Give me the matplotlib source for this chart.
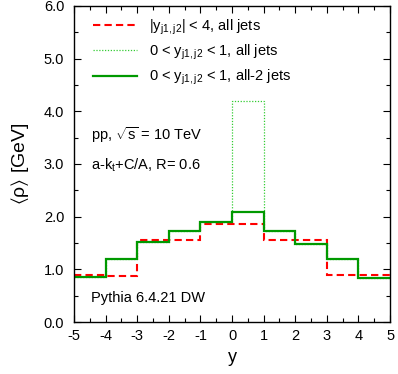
import matplotlib
matplotlib.use("Agg")
import matplotlib.pyplot as plt
from matplotlib.ticker import MultipleLocator

plt.rcParams["font.family"] = ["Liberation Sans", "DejaVu Sans"]
plt.rcParams["mathtext.fontset"] = "custom"
plt.rcParams["mathtext.rm"] = "Liberation Sans"
plt.rcParams["mathtext.it"] = "Liberation Sans"
plt.rcParams["mathtext.default"] = "regular"
plt.rcParams["axes.unicode_minus"] = False

# bin edges in rapidity y
edges = [-5, -4, -3, -2, -1, 0, 1, 2, 3, 4, 5]
# <rho> [GeV] per bin
rho_all_jets = [0.89, 0.88, 1.56, 1.56, 1.86, 1.86, 1.55, 1.55, 0.89, 0.89]
rho_fwd_all = [0.86, 1.19, 1.52, 1.73, 1.90, 4.20, 1.73, 1.49, 1.19, 0.84]
rho_fwd_all2 = [0.86, 1.19, 1.52, 1.73, 1.90, 2.08, 1.73, 1.49, 1.19, 0.84]

labels = [
    r"$|y_{j1,j2}|$ < 4, all jets",
    r"0 < $y_{j1,j2}$ < 1, all jets",
    r"0 < $y_{j1,j2}$ < 1, all-2 jets",
]

fig = plt.figure(figsize=(3.98, 3.74), dpi=100)
ax = fig.add_axes([0.186, 0.139, 0.794, 0.845])

ax.stairs(rho_all_jets, edges, baseline=None, color="#ff0000", lw=1.5,
          ls=(0, (3.5, 2)), label=labels[0])
ax.stairs(rho_fwd_all, edges, baseline=None, color="#33cc33", lw=0.9,
          ls=(0, (1, 1.3)), label=labels[1])
ax.stairs(rho_fwd_all2, edges, baseline=None, color="#009900", lw=1.6,
          label=labels[2])

ax.set_xlim(-5, 5)
ax.set_ylim(0, 6)
ax.xaxis.set_major_locator(MultipleLocator(1))
ax.xaxis.set_minor_locator(MultipleLocator(0.5))
ax.yaxis.set_major_locator(MultipleLocator(1))
ax.yaxis.set_minor_locator(MultipleLocator(0.5))
ax.yaxis.set_major_formatter(lambda v, p: f"{v:.1f}")
ax.tick_params(which="both", direction="in", top=True, right=True,
               labelsize=10.5, width=0.8)
ax.tick_params(which="major", length=5)
ax.tick_params(which="minor", length=3)
ax.tick_params(axis="y", pad=7)
ax.tick_params(axis="x", pad=5)
for s in ax.spines.values():
    s.set_linewidth(1.0)

ax.set_xlabel("y", fontsize=13, labelpad=4)
ax.set_ylabel(r"$\langle\rho\rangle$ [GeV]", fontsize=14, labelpad=9)

ax.legend(loc="upper left", bbox_to_anchor=(0.02, 1.005), frameon=False,
          fontsize=10.5, handlelength=3.0, labelspacing=0.4, handletextpad=0.8)

ax.text(0.055, 0.59, r"pp, $\sqrt{s}$ = 10 TeV", transform=ax.transAxes,
        fontsize=10.5, va="center")
ax.text(0.055, 0.497, r"a-k$_t$+C/A, R= 0.6", transform=ax.transAxes,
        fontsize=10.5, va="center")
ax.text(0.055, 0.075, "Pythia 6.4.21 DW", transform=ax.transAxes,
        fontsize=10.5, va="center")

fig.savefig("out.png", dpi=100)
